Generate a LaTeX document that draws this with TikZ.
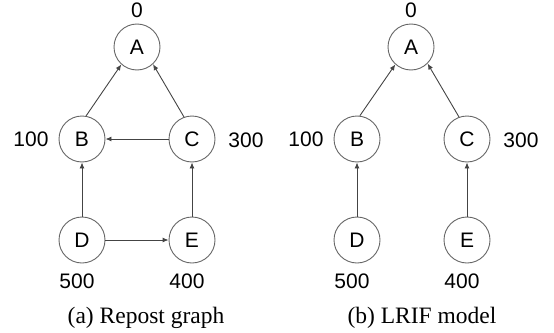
\documentclass[tikz,border=0pt]{standalone}
\usepackage{fontspec}
\setmainfont{Liberation Serif}
\newfontfamily\labfont{Liberation Sans}
\usetikzlibrary{arrows.meta}
\definecolor{circcol}{HTML}{666666}
\definecolor{arrcol}{HTML}{444444}
\tikzset{
  vtx/.style={circle, draw=circcol, line width=0.9pt, minimum size=46pt, inner sep=0pt,
    font=\labfont\fontsize{21}{25}\selectfont},
  numlab/.style={inner sep=0pt, font=\labfont\fontsize{21}{25}\selectfont},
  captext/.style={inner sep=0pt, font=\fontsize{23.5}{28}\selectfont},
  arrline/.style={draw=arrcol, line width=0.9pt, -{Latex[length=6pt,width=5pt]}}
}
\begin{document}
\begin{tikzpicture}[x=1pt,y=-1pt]
\useasboundingbox (0,0) rectangle (554,332);
% left panel
\node[vtx] (A1) at (137,47) {A};
\node[vtx] (B1) at (82,139) {B};
\node[vtx] (C1) at (192,139) {C};
\node[vtx] (D1) at (82,240) {D};
\node[vtx] (E1) at (192,240) {E};
\node[numlab] (l0a) at (137,10) {0};
\node[numlab] (l1a) at (31,139) {100};
\node[numlab] (l3a) at (246,140) {300};
\node[numlab] (l5a) at (77,281) {500};
\node[numlab] (l4a) at (187,281) {400};
\node[captext] (capa) at (146,318) {(a) Repost graph};
\draw[arrline] (B1.80) -- (A1.228);
\draw[arrline] (C1.110) -- (A1.313);
\draw[arrline] (C1.west) -- (B1.east);
\draw[arrline] (D1.north) -- (B1.south);
\draw[arrline] (E1.north) -- (C1.south);
\draw[arrline] (D1.east) -- (E1.west);
% right panel
\node[vtx] (A2) at (411,47) {A};
\node[vtx] (B2) at (357,139) {B};
\node[vtx] (C2) at (467,139) {C};
\node[vtx] (D2) at (357,240) {D};
\node[vtx] (E2) at (467,240) {E};
\node[numlab] (l0b) at (411,10) {0};
\node[numlab] (l1b) at (306,139) {100};
\node[numlab] (l3b) at (521,140) {300};
\node[numlab] (l5b) at (352,281) {500};
\node[numlab] (l4b) at (462,281) {400};
\node[captext] (capb) at (422,318) {(b) LRIF model};
\draw[arrline] (B2.83) -- (A2.228);
\draw[arrline] (C2.110) -- (A2.315);
\draw[arrline] (D2.north) -- (B2.south);
\draw[arrline] (E2.north) -- (C2.south);
\end{tikzpicture}
\end{document}
